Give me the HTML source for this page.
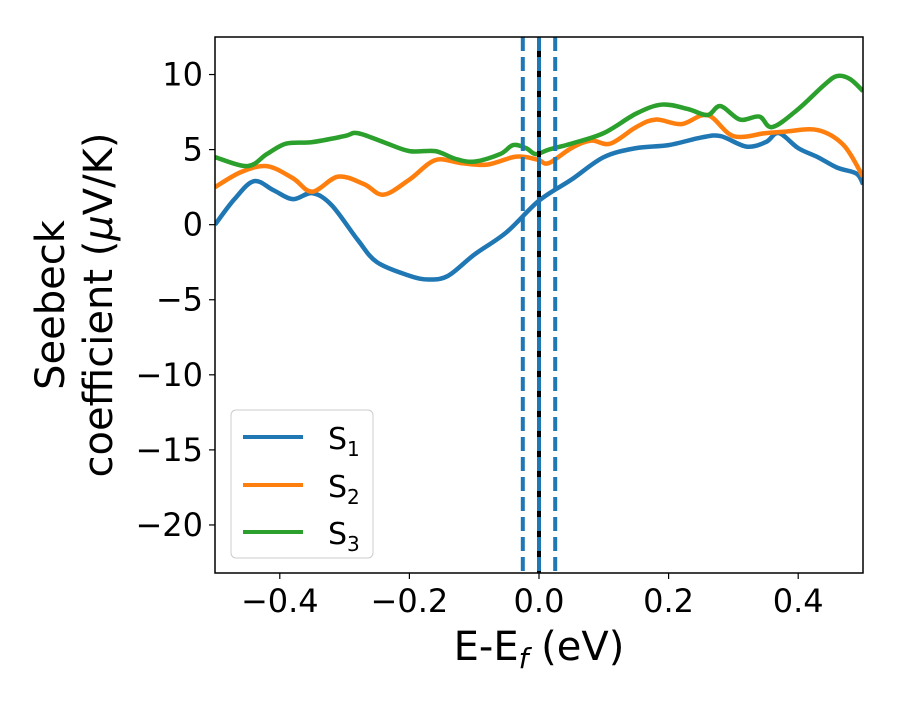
<!DOCTYPE html>
<html><head><meta charset="utf-8"><style>
body{margin:0;background:#fff}
svg text{font-family:"DejaVu Sans","Liberation Sans",sans-serif;fill:#000}
</style></head><body>
<svg id="chart" width="900" height="700" xmlns="http://www.w3.org/2000/svg">
<g id="plot"></g>
</svg>
<script>
const s1X=[-0.5,-0.47,-0.44,-0.41,-0.38,-0.35,-0.32,-0.28,-0.25,-0.2,-0.17,-0.14,-0.1,-0.05,0,0.05,0.1,0.15,0.2,0.25,0.28,0.32,0.35,0.37,0.4,0.43,0.46,0.49,0.5];
const s1Y=[0,1.7,2.9,2.3,1.7,2.1,1.3,-1,-2.5,-3.4,-3.65,-3.4,-2,-0.5,1.6,3,4.5,5.1,5.3,5.8,5.9,5.2,5.5,6.1,5.1,4.5,3.8,3.4,2.7];
const s2X=[-0.5,-0.46,-0.42,-0.38,-0.35,-0.31,-0.27,-0.24,-0.2,-0.16,-0.12,-0.08,-0.04,-0.02,0,0.015,0.05,0.08,0.11,0.15,0.18,0.22,0.26,0.3,0.35,0.38,0.43,0.47,0.5];
const s2Y=[2.5,3.5,3.9,3.1,2.2,3.2,2.7,2,3,4.3,4.1,4,4.5,4.5,4.3,4.1,5.1,5.6,5.4,6.5,7,6.7,7.3,5.9,6.1,6.2,6.3,5.3,3.2];
const s3X=[-0.5,-0.45,-0.42,-0.39,-0.35,-0.3,-0.28,-0.24,-0.2,-0.16,-0.13,-0.1,-0.06,-0.04,-0.02,-0.005,0.015,0.05,0.1,0.15,0.19,0.23,0.26,0.28,0.31,0.34,0.36,0.4,0.44,0.46,0.48,0.5];
const s3Y=[4.5,3.9,4.7,5.4,5.5,5.9,6.1,5.5,4.9,4.9,4.4,4.2,4.7,5.3,5.1,4.7,5,5.4,6.1,7.4,8,7.7,7.3,7.9,7,7.2,6.5,7.7,9.3,9.9,9.7,8.9];
const xTicks=[-0.4,-0.2,0.0,0.2,0.4];
const xTickLabels=["\u22120.4","\u22120.2","0.0","0.2","0.4"];
const yTicks=[10,5,0,-5,-10,-15,-20];
const yTickLabels=["10","5","0","\u22125","\u221210","\u221215","\u221220"];
const vLines=[-0.025,0,0.025];

const L=215,R=863,T=37,B=573, xMin=-0.5,xMax=0.5,yMin=-23.2,yMax=12.5;
const sx=v=>L+(v-xMin)/(xMax-xMin)*(R-L);
const sy=v=>B-(v-yMin)/(yMax-yMin)*(B-T);
const NS="http://www.w3.org/2000/svg";
const g=document.getElementById('plot');
function mk(t,a,p){const e=document.createElementNS(NS,t);for(const k in a)e.setAttribute(k,a[k]);(p||g).appendChild(e);return e;}
const cp=mk('clipPath',{id:'clip'});mk('rect',{x:L,y:T,width:R-L,height:B-T},cp);
function path(xs,ys){const p=xs.map((x,i)=>[sx(x),sy(ys[i])]);let d=`M${p[0][0]},${p[0][1]}`;
for(let i=0;i<p.length-1;i++){const p0=p[Math.max(0,i-1)],p1=p[i],p2=p[i+1],p3=p[Math.min(p.length-1,i+2)];
d+=` C${p1[0]+(p2[0]-p0[0])/6},${p1[1]+(p2[1]-p0[1])/6} ${p2[0]-(p3[0]-p1[0])/6},${p2[1]-(p3[1]-p1[1])/6} ${p2[0]},${p2[1]}`;}return d;}
const series=[[s1X,s1Y,'#1f77b4','series-s1'],[s2X,s2Y,'#ff7f0e','series-s2'],[s3X,s3Y,'#2ca02c','series-s3']];
series.forEach(s=>{const e=mk('path',{d:path(s[0],s[1]),fill:'none',stroke:s[2],'stroke-width':4.5,'clip-path':'url(#clip)'});

});
const fl=mk('line',{x1:sx(0),x2:sx(0),y1:T,y2:B,stroke:'#000','stroke-width':4});


vLines.forEach(v=>{const e=mk('line',{x1:sx(v),x2:sx(v),y1:T,y2:B,stroke:'#1f77b4','stroke-width':4,'stroke-dasharray':'14,6'});

});
const fr=mk('rect',{x:L,y:T,width:R-L,height:B-T,fill:'none',stroke:'#000','stroke-width':1.5});


xTicks.forEach((v,i)=>{mk('line',{x1:sx(v),x2:sx(v),y1:B,y2:B+6,stroke:'#000','stroke-width':1.2});
const t=mk('text',{x:sx(v),y:B+39,'font-size':32,'text-anchor':'middle'});t.textContent=xTickLabels[i];

});
yTicks.forEach((v,i)=>{mk('line',{x1:L-6,x2:L,y1:sy(v),y2:sy(v),stroke:'#000','stroke-width':1.2});
const t=mk('text',{x:L-12,y:sy(v)+11,'font-size':32,'text-anchor':'end'});t.textContent=yTickLabels[i];

});
</script>
<svg style="position:absolute;left:0;top:0" width="900" height="700" xmlns="http://www.w3.org/2000/svg">
<text x="539" y="660" font-size="40" text-anchor="middle">E-E<tspan font-style="italic" font-size="28" dy="8">f</tspan><tspan dy="-8"> (eV)</tspan></text>
<g transform="translate(64,305) rotate(-90)">
<text x="0" y="0" font-size="40" text-anchor="middle">Seebeck</text>
<text x="0" y="48" font-size="40" text-anchor="middle">coefficient  (<tspan font-style="italic">μ</tspan>V/K)</text>
</g>
<g>
<rect x="231" y="410" width="142" height="148" rx="5" fill="#fff" fill-opacity="0.8" stroke="#ccc"/>
<line x1="243" x2="303" y1="437" y2="437" stroke="#1f77b4" stroke-width="4"/>
<text x="328" y="449" font-size="30">S<tspan font-size="20" dy="7">1</tspan></text>
<line x1="243" x2="303" y1="485" y2="485" stroke="#ff7f0e" stroke-width="4"/>
<text x="328" y="497" font-size="30">S<tspan font-size="20" dy="7">2</tspan></text>
<line x1="243" x2="303" y1="532" y2="532" stroke="#2ca02c" stroke-width="4"/>
<text x="328" y="544" font-size="30">S<tspan font-size="20" dy="7">3</tspan></text>
</g>
</svg>
</body></html>
